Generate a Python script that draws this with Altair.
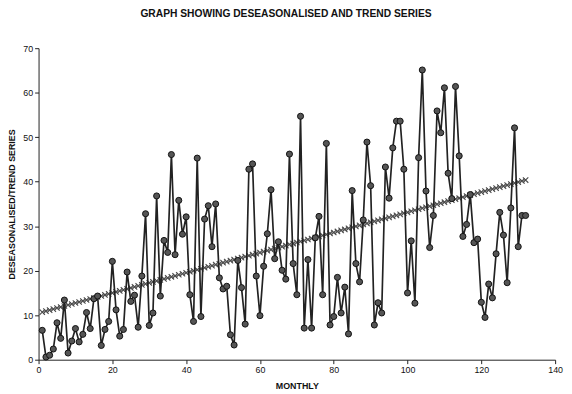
import altair as alt
import pandas as pd

months = list(range(1, 133))

deseasonalised = [
    6.6, 0.6, 1.0, 2.4, 8.3, 4.8, 13.4, 1.5, 4.2, 7.0,
    4.0, 5.7, 10.6, 7.0, 13.7, 14.3, 3.2, 6.8, 8.6, 22.1,
    11.2, 5.3, 6.8, 19.7, 13.1, 14.5, 7.3, 18.8, 32.8, 7.7,
    10.5, 36.8, 14.3, 26.8, 24.1, 46.1, 23.6, 35.8, 28.2, 32.1,
    14.6, 8.6, 45.3, 9.7, 31.6, 34.6, 25.4, 35.0, 18.4, 15.9,
    16.5, 5.6, 3.3, 22.3, 16.2, 8.0, 42.8, 44.0, 18.8, 9.9,
    21.0, 28.3, 38.2, 22.7, 26.5, 20.1, 18.1, 46.2, 21.6, 14.6,
    54.7, 7.1, 22.5, 7.1, 27.4, 32.2, 14.6, 48.6, 7.8, 9.7,
    18.5, 10.5, 16.3, 5.8, 38.0, 21.6, 17.5, 31.4, 48.9, 39.1,
    7.8, 12.8, 10.5, 43.3, 36.3, 47.6, 53.6, 53.6, 42.8, 15.0,
    26.7, 12.7, 45.4, 65.1, 37.9, 25.2, 32.4, 55.9, 51.0, 61.1,
    41.9, 36.2, 61.4, 45.8, 27.7, 30.4, 37.1, 26.3, 27.1, 12.9,
    9.5, 17.0, 13.9, 23.8, 33.1, 28.0, 17.3, 34.1, 52.1, 25.4,
    32.4, 32.4,
]

trend = [
    10.70, 10.93, 11.15, 11.38, 11.61, 11.83, 12.06, 12.29, 12.51, 12.74,
    12.97, 13.19, 13.42, 13.64, 13.87, 14.10, 14.32, 14.55, 14.78, 15.00,
    15.23, 15.46, 15.68, 15.91, 16.14, 16.36, 16.59, 16.82, 17.04, 17.27,
    17.50, 17.72, 17.95, 18.17, 18.40, 18.63, 18.85, 19.08, 19.31, 19.53,
    19.76, 19.99, 20.21, 20.44, 20.67, 20.89, 21.12, 21.35, 21.57, 21.80,
    22.03, 22.25, 22.48, 22.70, 22.93, 23.16, 23.38, 23.61, 23.84, 24.06,
    24.29, 24.52, 24.74, 24.97, 25.20, 25.42, 25.65, 25.88, 26.10, 26.33,
    26.56, 26.78, 27.01, 27.23, 27.46, 27.69, 27.91, 28.14, 28.37, 28.59,
    28.82, 29.05, 29.27, 29.50, 29.73, 29.95, 30.18, 30.41, 30.63, 30.86,
    31.09, 31.31, 31.54, 31.76, 31.99, 32.22, 32.44, 32.67, 32.90, 33.12,
    33.35, 33.58, 33.80, 34.03, 34.26, 34.48, 34.71, 34.94, 35.16, 35.39,
    35.62, 35.84, 36.07, 36.29, 36.52, 36.75, 36.97, 37.20, 37.43, 37.65,
    37.88, 38.11, 38.33, 38.56, 38.79, 39.01, 39.24, 39.47, 39.69, 39.92,
    40.15, 40.37,
]

x_ticks = [0, 20, 40, 60, 80, 100, 120, 140]
y_ticks = [0, 10, 20, 30, 40, 50, 60, 70]

df = pd.DataFrame({"month": months, "value": deseasonalised, "trend": trend})

FONT = "Liberation Sans"

x_enc = alt.X(
    "month:Q",
    scale=alt.Scale(domain=[0, 140], nice=False, zero=False),
    axis=alt.Axis(values=x_ticks, title="MONTHLY", grid=False, titlePadding=7,
                  labelFlush=False, labelOverlap=False),
)
y_axis = alt.Axis(values=y_ticks, title="DESEASONALISED/TREND SERIES", grid=False,
                  titlePadding=6, labelFlush=False)
y_scale = alt.Scale(domain=[0, 70], nice=False)

base = alt.Chart(df)

trend_line = base.mark_line(color="#8a8a8a", strokeWidth=1.2).encode(
    x=x_enc, y=alt.Y("trend:Q", scale=y_scale, axis=y_axis)
)
trend_pts = base.mark_point(
    shape="M-1,-1L1,1M-1,1L1,-1", filled=False, size=30, color="#4a4a4a", strokeWidth=1.1, opacity=1
).encode(x=x_enc, y=alt.Y("trend:Q", scale=y_scale, axis=y_axis))

data_line = base.mark_line(color="#222222", strokeWidth=1.7).encode(
    x=x_enc, y=alt.Y("value:Q", scale=y_scale, axis=y_axis)
)
data_pts = base.mark_circle(
    size=38, color="#555555", stroke="#111111", strokeWidth=1, opacity=1
).encode(x=x_enc, y=alt.Y("value:Q", scale=y_scale, axis=y_axis))

chart = (
    alt.layer(trend_line, trend_pts, data_line, data_pts)
    .properties(
        width=524,
        height=316,
        autosize=alt.AutoSizeParams(type="none"),
        padding={"left": 31, "top": 38, "right": 9, "bottom": 30},
        title=alt.TitleParams(
            "GRAPH SHOWING DESEASONALISED AND TREND SERIES",
            font=FONT, fontSize=10.4, fontWeight="bold", color="#111",
            anchor="middle", dx=-11, offset=25,
        ),
    )
    .configure_view(stroke=None)
    .configure_axis(
        labelFont=FONT, labelFontSize=9, labelColor="#111",
        titleFont=FONT, titleFontSize=9, titleFontWeight="bold", titleColor="#111",
        domainColor="#222", tickColor="#222", tickSize=4, labelPadding=2,
    )
)

chart.save("out.html", embed_options={"renderer": "svg", "actions": False})
